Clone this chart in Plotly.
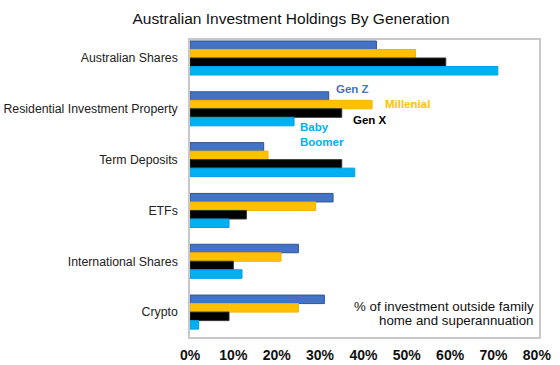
import plotly.graph_objects as go

categories = ["Australian Shares", "Residential Investment Property", "Term Deposits",
              "ETFs", "International Shares", "Crypto"]
gen_z = [43, 32, 17, 33, 25, 31]
millenial = [52, 42, 18, 29, 21, 25]
gen_x = [59, 35, 35, 13, 10, 9]
boomer = [71, 24, 38, 9, 12, 2]
tick_vals = [0, 10, 20, 30, 40, 50, 60, 70, 80]
tick_text = ["0%", "10%", "20%", "30%", "40%", "50%", "60%", "70%", "80%"]

series = [
    ("Gen Z", gen_z, "#4472C4", "#2F5597"),
    ("Millenial", millenial, "#FFC000", "#F2B400"),
    ("Gen X", gen_x, "#000000", "#333333"),
    ("Baby Boomer", boomer, "#00B0F0", "#00A0E0"),
]

fig = go.Figure()
for name, vals, col, lc in series:
    fig.add_trace(go.Bar(y=categories, x=vals, name=name, orientation="h",
                         marker=dict(color=col, line=dict(color=lc, width=1))))

font = "Liberation Sans, Arial, sans-serif"
fig.update_layout(
    width=560, height=365,
    margin=dict(l=190, r=21, t=40, b=28),
    paper_bgcolor="white", plot_bgcolor="white",
    barmode="group", bargap=0.33, bargroupgap=0,
    showlegend=False,
    font=dict(family=font, color="#222222", size=12),
    title=dict(text="Australian Investment Holdings By Generation",
               x=291/560, xref="container", xanchor="center",
               y=1-19/365, yref="container", yanchor="middle",
               font=dict(size=15.5, color="#111111", family=font)),
    xaxis=dict(range=[0, 80.5], tickvals=tick_vals, ticktext=tick_text,
               automargin=False,
               showgrid=False, zeroline=False, showline=True, mirror=True,
               linecolor="#C8C8C8", linewidth=1.5,
               tickfont=dict(size=14, color="#111111", family=font, weight="bold"),
               ticks="outside", ticklen=4, tickcolor="rgba(0,0,0,0)"),
    yaxis=dict(range=[5.49, -0.354], showgrid=False, zeroline=False,
               automargin=False,
               showline=True, mirror=True, linecolor="#C8C8C8", linewidth=1.5,
               tickfont=dict(size=12.3, color="#222222"),
               ticks="outside", ticklen=8, tickcolor="rgba(0,0,0,0)"),
)

ann = [
    ("Gen Z", 335, 89, "#4472C4"),
    ("Millenial", 384, 104, "#FFC000"),
    ("Gen X", 352, 120, "#000000"),
    ("Baby<br>Boomer", 299, 134.5, "#00B0F0"),
]
for t, px, py, c in ann:
    fig.add_annotation(text=t, xref="paper", yref="paper",
                       x=(px-190)/349, y=(337-py)/297, xanchor="left", yanchor="middle",
                       align="left", showarrow=False, borderpad=0,
                       font=dict(size=11.5, color=c, family=font, weight="bold"))

for line, py in [("% of investment outside family", 306.5), ("home and superannuation", 320.5)]:
    fig.add_annotation(text=line, xref="paper", yref="paper", x=(535-190)/349, y=(337-py)/297,
                       xanchor="right", yanchor="middle", align="right", showarrow=False,
                       borderpad=0,
                       font=dict(size=13.3, color="#111111", family=font))

fig.write_html("out.html", config={"displayModeBar": False},
               post_script="document.body.style.margin='0';document.body.style.overflow='hidden';")
